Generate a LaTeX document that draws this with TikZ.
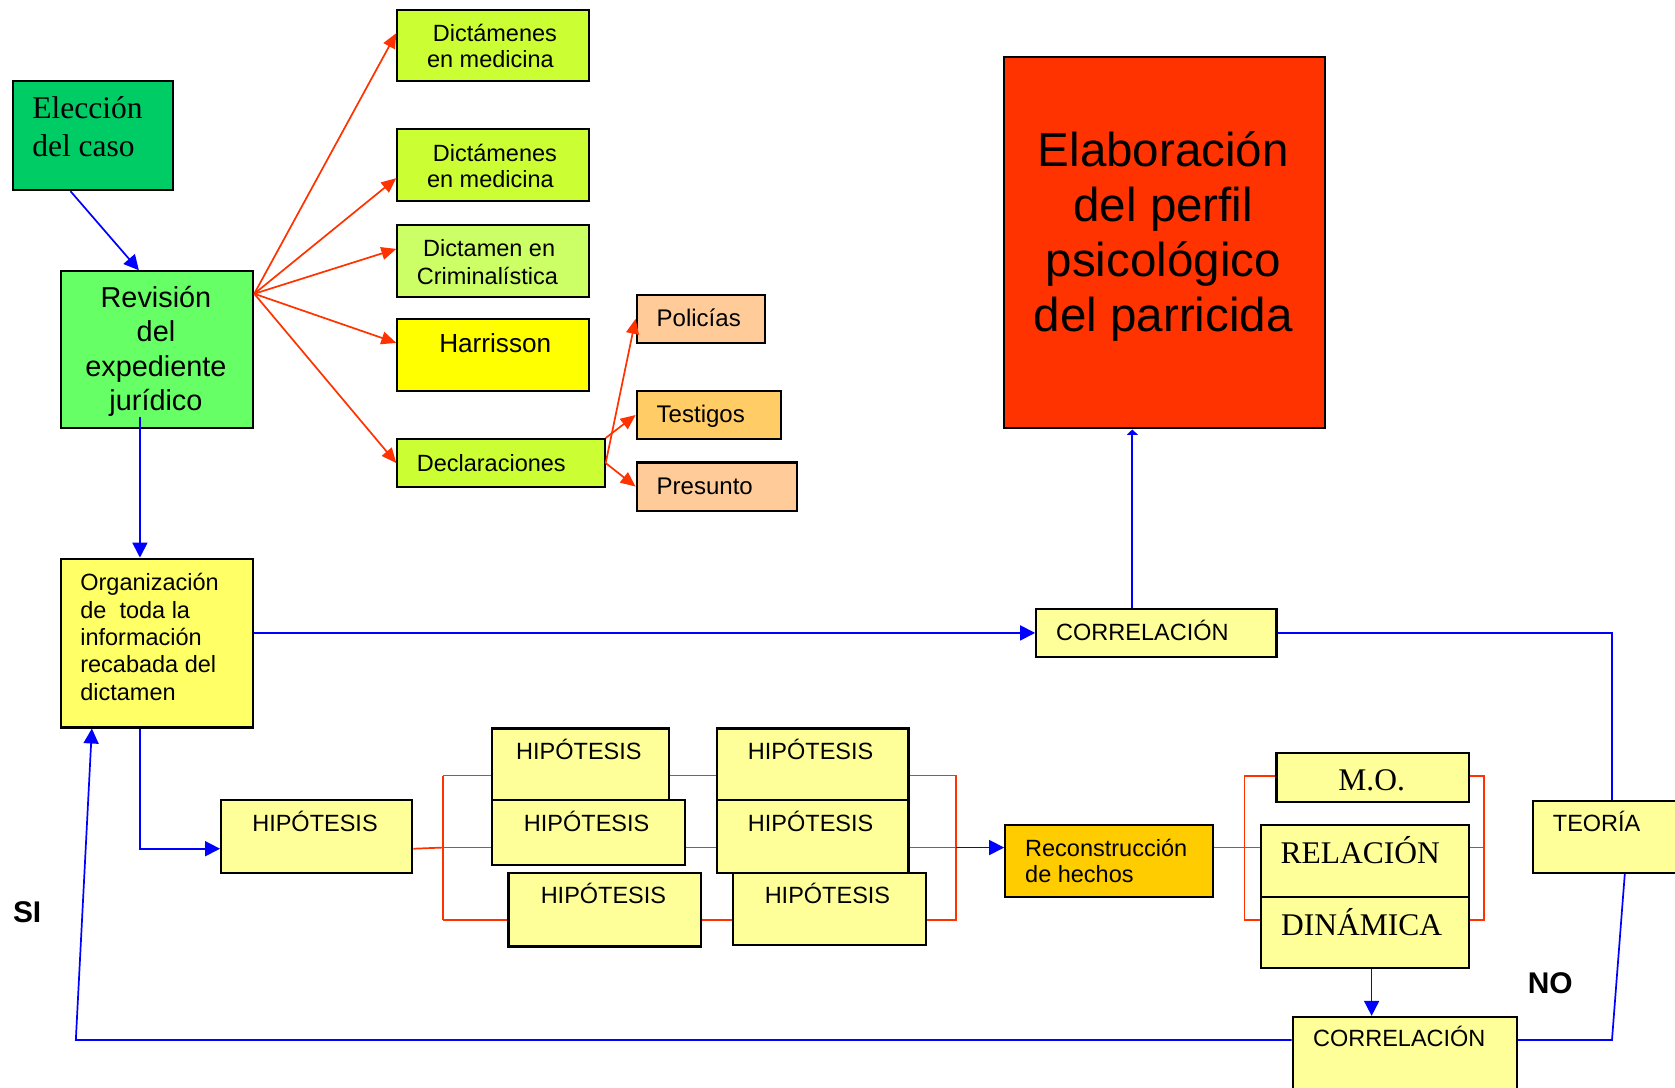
\documentclass[tikz,border=0pt]{standalone}
\usepackage{fontspec}
\setmainfont{Liberation Sans}
\newfontfamily\serifont{Liberation Serif}
\usetikzlibrary{arrows.meta}
\definecolor{cEleccion}{HTML}{00CC66}
\definecolor{cRevision}{HTML}{66FF66}
\definecolor{cDict}{HTML}{CCFF33}
\definecolor{cCrim}{HTML}{CCFF66}
\definecolor{cHarr}{HTML}{FFFF00}
\definecolor{cPeach}{HTML}{FFCC99}
\definecolor{cTestigos}{HTML}{FFCC66}
\definecolor{cElab}{HTML}{FF3300}
\definecolor{cOrg}{HTML}{FFFF66}
\definecolor{cLight}{HTML}{FFFF99}
\definecolor{cRecon}{HTML}{FFCC00}
\definecolor{cRed}{HTML}{FF3300}
\definecolor{cBlue}{HTML}{0000FF}
\newcommand\mybox[6]{\node[box,fill=#2,minimum width={#5-#3},minimum height={#6-#4}] (#1) at (#3,#4) {};}
\begin{document}
\begin{tikzpicture}[x=1pt,y=-1pt,
  box/.style={draw=black,line width=2pt,inner sep=0pt,anchor=north west},
  fs/.style={font=\fontsize{22}{26}\selectfont,inner sep=0pt,anchor=base west},
  fsm/.style={fs,font=\fontsize{22.5}{26}\selectfont},
  fbig/.style={font=\fontsize{27}{32}\selectfont,inner sep=0pt,anchor=base},
  fhuge/.style={font=\fontsize{44.5}{52}\selectfont,inner sep=0pt,anchor=base},
  fser/.style={font=\serifont\fontsize{29.5}{34}\selectfont,inner sep=0pt,anchor=base west},
  fbold/.style={font=\bfseries\fontsize{28}{32}\selectfont,inner sep=0pt,anchor=base west},
  blueline/.style={draw=cBlue,line width=1.6pt},
  bluearrow/.style={blueline,-{Triangle[length=14pt,width=14pt]}},
  bluesmall/.style={blueline,-{Triangle[length=5pt,width=10pt]}},
  redline/.style={draw=cRed,line width=1.6pt},
  redarrow/.style={redline,-{Triangle[length=14pt,width=12pt]}}]
\useasboundingbox (0,0) rectangle (1568,1018.5);

% ---------- boxes ----------
\mybox{elec}{cEleccion}{11}{75}{161}{177}
\mybox{rev}{cRevision}{56}{253}{236}{400}
\mybox{d1}{cDict}{371}{8}{550}{75}
\mybox{d2}{cDict}{371}{120}{550}{187}
\mybox{crim}{cCrim}{371}{210}{550}{277}
\mybox{harr}{cHarr}{371}{298}{550}{365}
\mybox{decl}{cDict}{371}{410}{565}{455}
\mybox{pol}{cPeach}{595}{275}{715}{320}
\mybox{tes}{cTestigos}{595}{365}{730}{410}
\mybox{pre}{cPeach}{595}{432}{745}{477}
\mybox{elab}{cElab}{939}{52}{1239}{400}
\mybox{org}{cOrg}{56}{522}{236}{680}
\mybox{ctop}{cLight}{969}{569}{1194}{614}
\mybox{teo}{cLight}{1434}{748.5}{1572}{816}
\mybox{h0}{cLight}{206}{748}{385}{816}
\mybox{h1a}{cLight}{459.5}{681}{625}{748}
\mybox{h1b}{cLight}{459.5}{748}{640.5}{808.5}
\mybox{h1c}{cLight}{475}{816}{655.5}{885}
\mybox{h2a}{cLight}{670}{681}{849.5}{748}
\mybox{h2b}{cLight}{670}{748}{849.5}{816}
\mybox{h2c}{cLight}{685}{816}{865.5}{883.5}
\mybox{rec}{cRecon}{940}{771}{1134.5}{838.5}
\mybox{mo}{cLight}{1194}{703.5}{1374}{750}
\mybox{rel}{cLight}{1179.5}{771}{1374}{838.5}
\mybox{din}{cLight}{1179.5}{838.5}{1374}{905.5}
\mybox{cbot}{cLight}{1209}{951}{1419}{1022}

% ---------- texts ----------
\node[fser] (tElec1) at (30,110.6) {Elección};
\node[fser] (tElec2) at (30,146.4) {del caso};
\node[fbig] (tRev1) at (146,288) {Revisión};
\node[fbig] (tRev2) at (146,320) {del};
\node[fbig] (tRev3) at (146,352) {expediente};
\node[fbig] (tRev4) at (146,384) {jurídico};
\node[fs] (tD11) at (405,39) {Dictámenes};
\node[fs] (tD12) at (399.6,63.5) {en medicina};
\node[fs] (tD21) at (405,151) {Dictámenes};
\node[fs] (tD22) at (399.6,175.5) {en medicina};
\node[fs] (tCr1) at (396,240.5) {Dictamen en};
\node[fs] (tCr2) at (390,266) {Criminalística};
\node[fs,font=\fontsize{24.5}{28}\selectfont] (tHarr) at (411,330) {Harrisson};
\node[fs] (tDecl) at (390,441) {Declaraciones};
\node[fsm] (tPol) at (614.5,305.5) {Policías};
\node[fsm] (tTes) at (614.5,395.5) {Testigos};
\node[fsm] (tPre) at (614.5,463) {Presunto};
\node[fhuge] (tEl1) at (1089,155.4) {Elaboración};
\node[fhuge] (tEl2) at (1089,207) {del perfil};
\node[fhuge] (tEl3) at (1089,258.7) {psicológico};
\node[fhuge] (tEl4) at (1089,310.5) {del parricida};
\node[fs] (tOr1) at (75,553) {Organización};
\node[fs] (tOr2) at (75,579) {de\ \ toda la};
\node[fs] (tOr3) at (75,604.5) {información};
\node[fs] (tOr4) at (75,630) {recabada del};
\node[fs] (tOr5) at (75,655.5) {dictamen};
\node[fs] (tCtop) at (988.5,600) {CORRELACIÓN};
\node[fs] (tTeo) at (1453.5,778) {TEORÍA};
\node[fs] (tH0) at (236,778.5) {HIPÓTESIS};
\node[fs] (tH1a) at (483,711.4) {HIPÓTESIS};
\node[fs] (tH1b) at (490.3,778.5) {HIPÓTESIS};
\node[fs] (tH1c) at (506,845.5) {HIPÓTESIS};
\node[fs] (tH2a) at (700,711.4) {HIPÓTESIS};
\node[fs] (tH2b) at (700,778.5) {HIPÓTESIS};
\node[fs] (tH2c) at (715.7,845.5) {HIPÓTESIS};
\node[fs] (tRec1) at (959.5,801.5) {Reconstrucción};
\node[fs] (tRec2) at (959.5,825.7) {de hechos};
\node[fser,anchor=base] (tMo) at (1284,739.7) {M.O.};
\node[fser] (tRel) at (1198.6,808) {RELACIÓN};
\node[fser] (tDin) at (1199,875.5) {DINÁMICA};
\node[fs] (tCbot) at (1229,980) {CORRELACIÓN};
\node[fbold] (tSi) at (12,863.7) {SI};
\node[fbold] (tNo) at (1430,929.7) {NO};

% ---------- red arrows from Revisión ----------
\coordinate (ro) at ([yshift=-22pt]rev.north east);
\draw[redarrow] (ro) -- ([yshift=11.5pt]d1.west);
\draw[redarrow] (ro) -- ([yshift=-12.3pt]d2.west);
\draw[redarrow] (ro) -- ([yshift=11.5pt]crim.west);
\draw[redarrow] (ro) -- ([yshift=11.5pt]harr.west);
\draw[redarrow] (ro) -- (decl.west);
\draw[redarrow] (decl.east) -- (pol.west);
\draw[redarrow] (decl.north east) -- (tes.west);
\draw[redarrow] (decl.east) -- (pre.west);

% ---------- blue connectors ----------
\draw[bluearrow] ([xshift=55pt]elec.south west) -- ([xshift=74pt]rev.north west);
\draw[bluearrow] ([xshift=75pt,yshift=12pt]rev.south west) -- ([xshift=75pt]org.north west);
\draw[bluearrow] ([xshift=75pt]org.south west) |- ([yshift=-11.5pt]h0.west);
\draw[bluearrow] (org.east |- ctop.west) -- (ctop.west);
\draw[bluesmall] ([xshift=-22.5pt]ctop.north) -- ([xshift=-22.5pt]ctop.north |- elab.south);
\draw[blueline] (ctop.east) -| ([xshift=75pt]teo.north west);
\coordinate (nr) at (1509,973.5);
\coordinate (sl) at (71,973.5);
\draw[blueline] ([xshift=87pt]teo.south west) -- (nr) -- (nr -| cbot.east);
\draw[bluearrow] (cbot.west |- sl) -- (sl) -- ([xshift=30pt]org.south west);
\draw[bluearrow] ([xshift=104.5pt]din.south west) -- ([xshift=104.5pt]din.south west |- cbot.north);

% ---------- red brackets ----------
\coordinate (b1t) at (415,726);
\coordinate (b1m) at (415,793.4);
\coordinate (b1b) at (415,861);
\draw[redline] ([yshift=-11.5pt]h0.east) -- (b1m);
\draw[redline] (b1t) -- (b1b);
\draw[redline] (b1t) -- (b1t -| h1a.west);
\draw[redline] (b1m) -- (b1m -| h1b.west);
\draw[redline] (b1b) -- (b1b -| h1c.west);
\draw[redline] (b1t -| h1a.east) -- (b1t -| h2a.west);
\draw[redline] (b1m -| h1b.east) -- (b1m -| h2b.west);
\draw[redline] (b1b -| h1c.east) -- (b1b -| h2c.west);
\coordinate (b2t) at (895,726);
\coordinate (b2m) at (895,793.4);
\coordinate (b2b) at (895,861);
\draw[redline] (b2t -| h2a.east) -- (b2t) -- (b2b) -- (b2b -| h2c.east);
\draw[redline] (b2m -| h2b.east) -- (b2m);
\draw[bluearrow] (b2m) -- (b2m -| rec.west);
\coordinate (b3t) at (1165,726.2);
\coordinate (b3m) at (1165,793.4);
\coordinate (b3b) at (1165,861);
\draw[redline] (b3m -| rec.east) -- (b3m);
\draw[redline] (b3t -| mo.west) -- (b3t) -- (b3b) -- (b3b -| din.west);
\draw[redline] (b3m) -- (b3m -| rel.west);
\coordinate (b4t) at (1389,726.2);
\coordinate (b4m) at (1389,793.4);
\coordinate (b4b) at (1389,861);
\draw[redline] (b4t -| mo.east) -- (b4t) -- (b4b) -- (b4b -| din.east);
\draw[redline] (b4m -| rel.east) -- (b4m);
\end{tikzpicture}
\end{document}
